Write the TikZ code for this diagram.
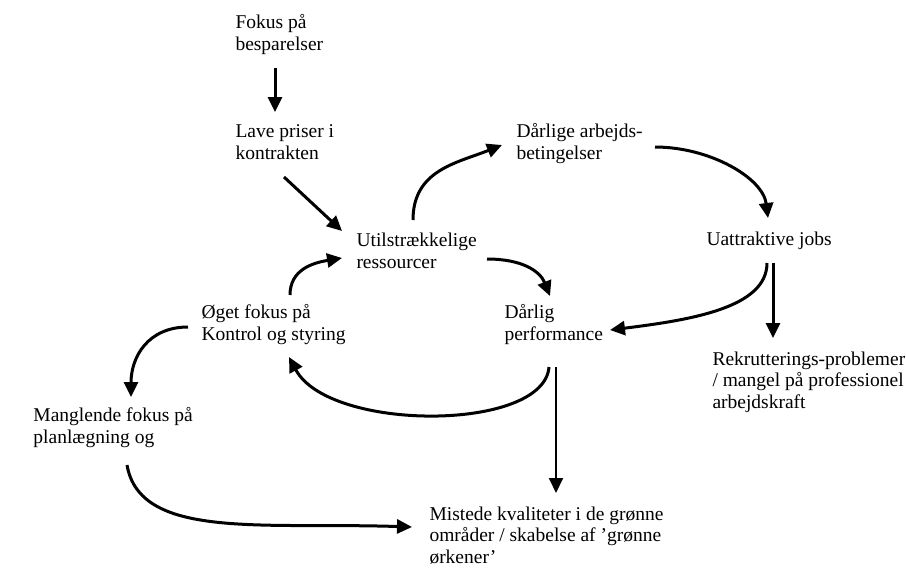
\documentclass[tikz,border=0pt]{standalone}
\usepackage{fontspec}
\setmainfont{Liberation Serif}
\usepackage{tikz}
\usetikzlibrary{arrows.meta}
\tikzset{>/.tip={Triangle[length=15pt,width=14pt]}}
\tikzset{box/.style={anchor=base west,inner sep=0pt,align=left,font=\fontsize{19.5}{21.5}\selectfont}}

\begin{document}
\begin{tikzpicture}[x=1pt,y=-1pt,line width=3pt]
  \useasboundingbox (0,0) rectangle (906,573);
  \node[box](fokus) at (234,50){Fokus på\\besparelser};
  \node[box](lave) at (234,159){Lave priser i\\kontrakten};
  \node[box](utils) at (355,268){Utilstrækkelige\\ressourcer};
  \node[box](darb) at (515,159){Dårlige arbejds-\\betingelser};
  \node[box](uattr) at (705,245){Uattraktive jobs};
  \node[box](dperf) at (503,340){Dårlig\\performance};
  \node[box](oeget) at (200,340){Øget fokus på\\Kontrol og styring};
  \node[box](rekrut) at (711,408){Rekrutterings-problemer\\/ mangel på professionel\\arbejdskraft};
  \node[box](mangl) at (32,443){Manglende fokus på\\planlægning og};
  \node[box](mist) at (428,563){Mistede kvaliteter i de grønne\\områder / skabelse af 'grønne\\ørkener'};
  % arrows
  \draw[->] ([shift={(41,18)}]fokus.base west) -- ([shift={(41,-47)}]lave.base west);
  \draw[->] ([shift={(50,18)}]lave.base west) -- ([shift={(-13,-37)}]utils.base west);
  \draw[->] ([shift={(58,-48)}]utils.base west) .. controls +(0,-50) and +(-45,18) .. ([shift={(-13,-14)}]darb.base west);
  \draw[->] ([shift={(140,-12)}]darb.base west) .. controls +(55,0) and +(-5,-40) .. ([shift={(63,-27)}]uattr.base west);
  \draw[->] ([shift={(132,-9)}]utils.base west) .. controls +(35,0) and +(-10,-25) .. ([shift={(47,-44)}]dperf.base west);
  \draw[->] ([shift={(90,-45)}]oeget.base west) .. controls +(0,-25) and +(-30,5) .. ([shift={(-13,-10)}]utils.base west);
  \draw[->] ([shift={(62,18)}]uattr.base west) .. controls +(0,45) and +(80,-10) .. ([shift={(107,-10)}]dperf.base west);
  \draw[->] ([shift={(68,18)}]uattr.base west) -- ([shift={(62,-70)}]rekrut.base west);
  \draw[->] ([shift={(46,27)}]dperf.base west) .. controls +(-5,65) and +(40,75) .. ([shift={(89,17)}]oeget.base west);
  \draw[->,line width=2pt] ([shift={(53,27)}]dperf.base west) -- ([shift={(128,-70)}]mist.base west);
  \draw[->] ([shift={(-12,-13)}]oeget.base west) .. controls +(-40,0) and +(0,-40) .. ([shift={(99,-46)}]mangl.base west);
  \draw[->] ([shift={(95,22)}]mangl.base west) .. controls +(13,75) and +(-150,-5) .. ([shift={(-16,-36)}]mist.base west);
\end{tikzpicture}
\end{document}
